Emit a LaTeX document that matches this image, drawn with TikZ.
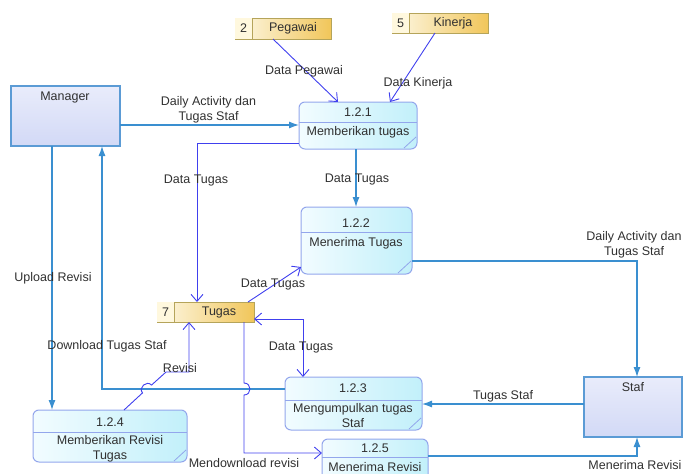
\documentclass[tikz,border=0pt]{standalone}
\usepackage{fontspec}
\setmainfont{Liberation Sans}
\usetikzlibrary{arrows.meta,calc}
\definecolor{lblue}{HTML}{3A8FD0}
\definecolor{viol}{HTML}{4040EE}
\definecolor{procdraw}{HTML}{93A6EC}
\definecolor{procL}{HTML}{F2FCFF}
\definecolor{procR}{HTML}{C2F0FA}
\definecolor{entdraw}{HTML}{5B9BD5}
\definecolor{entT}{HTML}{E9ECFB}
\definecolor{entB}{HTML}{D2D9F6}
\definecolor{stdraw}{HTML}{B5A45A}
\definecolor{stL}{HTML}{FDF8E6}
\definecolor{stR}{HTML}{F1C65A}
\definecolor{stnum}{HTML}{FFF8DE}
\definecolor{txt}{HTML}{303030}
\begin{document}
\begin{tikzpicture}[x=1pt,y=-1pt,
  font=\fontsize{12.5}{15}\selectfont, text=txt,
  proc/.style={draw=procdraw, line width=1pt, rounded corners=6pt,
    left color=procL, right color=procR, inner sep=0pt, outer sep=0pt, anchor=north west},
  ent/.style={draw=entdraw, line width=1.2pt, top color=entT, bottom color=entB,
    inner sep=0pt, outer sep=0pt, anchor=north west},
  store/.style={draw=stdraw, line width=0.9pt, left color=stL, right color=stR,
    inner sep=0pt, outer sep=0pt, anchor=north west},
  divl/.style={draw=procdraw, line width=0.8pt},
  lbl/.style={inner sep=0pt, align=center},
  bl/.style={draw=lblue, line width=1.1pt, -{Latex[length=10pt,width=7pt]}},
  vi/.style={draw=viol, line width=0.9pt, -{Straight Barb[length=7pt,width=12pt]}},
  vib/.style={draw=viol, line width=0.9pt, {Straight Barb[length=7pt,width=12pt]}-{Straight Barb[length=7pt,width=12pt]}}
]
\useasboundingbox (0,0) rectangle (683,474);

% ---- external entities
\node[ent, minimum width=109pt, minimum height=60pt] (man) at (11,86) {};
\node[lbl] (manT) at (65,97) {Manager};
\node[ent, minimum width=98pt, minimum height=60pt] (staf) at (584,377) {};
\node[lbl] (stafT) at (633,387) {Staf};

% ---- data stores
\node[store, minimum width=96pt, minimum height=21pt] (peg) at (235,18) {};
\fill[stnum] (235.45,18.45) rectangle (252,38.55);
\draw[stdraw, line width=0.9pt] (252,18) -- (252,39);
\node[lbl] (pegN) at (243.5,28.5) {2};
\node[lbl] (pegT) at (293,28.5) {Pegawai};

\node[store, minimum width=96pt, minimum height=20pt] (kin) at (392,13) {};
\fill[stnum] (392.45,13.45) rectangle (409,32.55);
\draw[stdraw, line width=0.9pt] (409,13) -- (409,33);
\node[lbl] (kinN) at (400.5,23) {5};
\node[lbl] (kinT) at (453,23) {Kinerja};

\node[store, minimum width=97pt, minimum height=20pt] (tug) at (157,302) {};
\fill[stnum] (157.45,302.45) rectangle (174,321.55);
\draw[stdraw, line width=0.9pt] (174,302) -- (174,322);
\node[lbl] (tugN) at (165.5,312) {7};
\node[lbl] (tugT) at (219,312) {Tugas};

% ---- processes
\node[proc, minimum width=118pt, minimum height=47pt] (p121) at (299,102) {};
\draw[divl] (299,122) -- (417,122);
\draw[divl] (404,148) -- (416,137);
\node[lbl] (p121n) at (358,112) {1.2.1};
\node[lbl] (p121t) at (358,132) {Memberikan tugas};

\node[proc, minimum width=111pt, minimum height=67pt] (p122) at (301,207) {};
\draw[divl] (301,232) -- (412,232);
\draw[divl] (398,273) -- (411,261);
\node[lbl] (p122n) at (356,223) {1.2.2};
\node[lbl] (p122t) at (356,243) {Menerima Tugas};

\node[proc, minimum width=137pt, minimum height=53pt] (p123) at (285,377) {};
\draw[divl] (285,400) -- (422,400);
\draw[divl] (409,429) -- (421,418);
\node[lbl] (p123n) at (353,388) {1.2.3};
\node[lbl] (p123t) at (353,415.5) {Mengumpulkan tugas\\Staf};

\node[proc, minimum width=154pt, minimum height=52pt] (p124) at (33,410) {};
\draw[divl] (33,432) -- (187,432);
\draw[divl] (174,461) -- (186,450);
\node[lbl] (p124n) at (110,422) {1.2.4};
\node[lbl] (p124t) at (110,448.5) {Memberikan Revisi\\Tugas};

\node[proc, minimum width=106pt, minimum height=50pt] (p125) at (322,439) {};
\draw[divl] (322,457) -- (428,457);
\node[lbl] (p125n) at (375,448) {1.2.5};
\node[lbl] (p125t) at (375,467) {Menerima Revisi};

% ---- helper coordinates
\coordinate (y125) at (0,125);
\coordinate (k1) at (197,143);
\coordinate (x356) at (356,0);
\coordinate (s1) at (637,261);
\coordinate (s2) at (637,456);
\coordinate (y404) at (0,404);
\coordinate (u1) at (52,0);
\coordinate (dl) at (102,389);
\coordinate (d1) at (303,319);
\coordinate (m0) at (244,0);
\coordinate (m1) at (244,453);
\coordinate (r0) at (124,0);
\coordinate (r1) at (189,372);

% ---- connectors (steel blue)
\draw[bl] (man.east |- y125) -- (p121.west |- y125);
\draw[bl] (p121.south -| x356) -- (p122.north -| x356);
\draw[bl] (p122.east |- s1) -- (s1) -- (staf.north -| s1);
\draw[bl] (staf.west |- y404) -- (p123.east |- y404);
\draw[bl] (p125.east |- s2) -- (s2) -- (staf.south -| s2);
\draw[bl] (man.south -| u1) -- (p124.north -| u1);
\draw[bl] (p123.west |- dl) -- (dl) -- (man.south -| dl);

% ---- connectors (violet)
\draw[vi] ($(peg.south west)+(38,0)$) -- ($(p121.north west)+(39,0)$);
\draw[vi] ($(kin.south west)+(43,0)$) -- ($(p121.north west)+(91,0)$);
\draw[vi] (p121.west |- k1) -- (k1) -- (tug.north -| k1);
\draw[vi] ($(tug.north east)+(-6,0)$) -- ($(p122.south west)+(0,-7)$);
\draw[vib] (tug.east |- d1) -- (d1) -- (p123.north -| d1);
\draw[vi] (tug.south -| m0) -- (244,383) .. controls (252,383) and (252,395) .. (244,395) -- (m1) -- (p125.west |- m1);
\draw[vi] (p124.north -| r0) -- (142.5,392.9) .. controls (137.9,387.6) and (146.9,379.8) .. (151.5,385.1) -- (166,372) -- (r1) -- (tug.south -| r1);

% ---- labels
\node[lbl] (l1) at (208.5,109.5) {Daily Activity dan\\Tugas Staf};
\node[lbl] (l2) at (304,71) {Data Pegawai};
\node[lbl] (l3) at (418,83) {Data Kinerja};
\node[lbl] (l4) at (196,180) {Data Tugas};
\node[lbl] (l5) at (357,179) {Data Tugas};
\node[lbl] (l6) at (634,244.5) {Daily Activity dan\\Tugas Staf};
\node[lbl] (l7) at (273,284) {Data Tugas};
\node[lbl] (l8) at (53,278) {Upload Revisi};
\node[lbl] (l9) at (107,346) {Download Tugas Staf};
\node[lbl] (l10) at (301,347) {Data Tugas};
\node[lbl] (l11) at (180,368) {Revisi};
\node[lbl] (l12) at (503,396) {Tugas Staf};
\node[lbl] (l13) at (244,463) {Mendownload revisi};
\node[lbl] (l14) at (635,465) {Menerima Revisi};
\end{tikzpicture}
\end{document}
